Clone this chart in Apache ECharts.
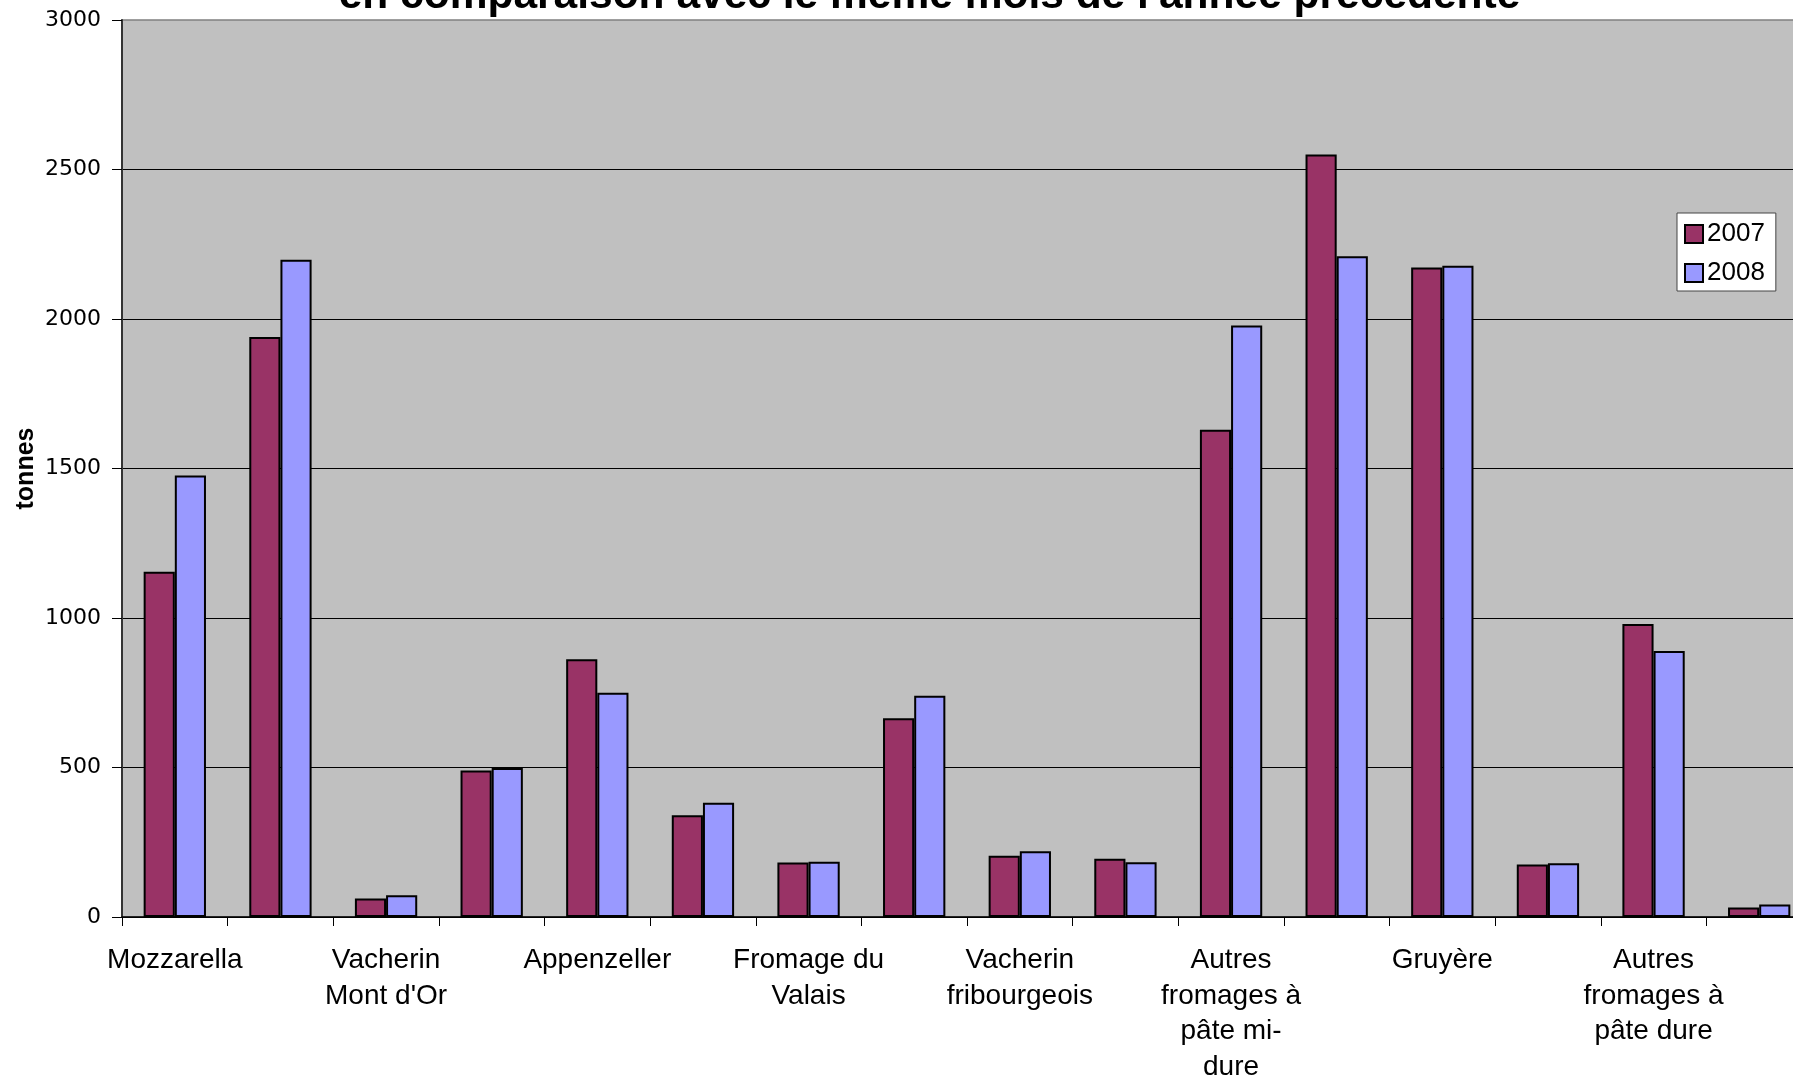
<!DOCTYPE html>
<html>
<head>
<meta charset="utf-8">
<script src="https://cdn.jsdelivr.net/npm/echarts@6/dist/echarts.min.js"></script>
<style>
  html, body { margin: 0; padding: 0; overflow: hidden; background: #fff; }
  #chart { width: 1793px; height: 1079px; }
</style>
</head>
<body>
<div id="chart"></div>
<script>
const categories = [
  "Mozzarella", "Autres fromages frais", "Vacherin Mont d'Or", "Autres fromages à pâte molle",
  "Appenzeller", "Tilsiter", "Fromage du Valais", "Raclette",
  "Vacherin fribourgeois", "Tête de Moine", "Autres fromages à pâte mi-dure", "Emmentaler",
  "Gruyère", "Sbrinz", "Autres fromages à pâte dure", "Fromages de chèvre"
];
const tickLabels = [
  "Mozzarella", "", "Vacherin\nMont d'Or", "",
  "Appenzeller", "", "Fromage du\nValais", "",
  "Vacherin\nfribourgeois", "", "Autres\nfromages à\npâte mi-\ndure", "",
  "Gruyère", "", "Autres\nfromages à\npâte dure", ""
];
const seriesNames = ["2007", "2008"];
const values2007 = [1155, 1940, 62, 490, 862, 340, 182, 665, 205, 195, 1630, 2550, 2172, 176, 980, 32];
const values2008 = [1477, 2198, 73, 498, 750, 382, 185, 740, 220, 183, 1978, 2210, 2178, 180, 890, 42];
const yTicks = { min: 0, max: 3000, interval: 500 };
const titleText = "en comparaison avec le même mois de l'année précédente";
const yName = "tonnes";

const chart = echarts.init(document.getElementById('chart'), null, { renderer: 'canvas' });
chart.setOption({
  animation: false,
  title: {
    text: titleText,
    left: 929.5,
    top: -25,
    padding: 0,
    textAlign: 'center',
    textStyle: { fontFamily: 'Liberation Sans', fontWeight: 'bold', fontSize: 42.5, color: '#000' }
  },
  legend: {
    orient: 'vertical',
    left: 1677,
    top: 213,
    padding: [8, 11, 5, 7],
    backgroundColor: '#fff',
    borderColor: '#444',
    borderWidth: 1,
    borderRadius: 0,
    itemWidth: 18,
    itemHeight: 18,
    itemGap: 13,
    icon: 'rect',
    textStyle: { fontFamily: 'Liberation Sans', fontSize: 26, color: '#000', padding: [0, 0, 0, -1] },
    data: seriesNames
  },
  grid: {
    left: 122, width: 1690, top: 20, bottom: 162,
    outerBoundsMode: 'none',
    containLabel: false,
    show: true,
    backgroundColor: '#C0C0C0',
    borderColor: '#808080',
    borderWidth: 1.5
  },
  xAxis: {
    type: 'category',
    data: categories,
    axisLine: { show: true, lineStyle: { color: '#000', width: 1.5 } },
    axisTick: { show: true, interval: 0, length: 9, lineStyle: { color: '#000', width: 1 } },
    axisLabel: {
      interval: 1,
      margin: 26,
      fontFamily: 'Liberation Sans',
      fontSize: 28,
      lineHeight: 35.5,
      color: '#000',
      align: 'center',
      formatter: function (v, i) { return tickLabels[i]; }
    },
    splitLine: { show: false }
  },
  yAxis: {
    type: 'value',
    min: yTicks.min,
    max: yTicks.max,
    interval: yTicks.interval,
    name: yName,
    nameLocation: 'middle',
    nameRotate: 90,
    nameGap: 83,
    nameMoveOverlap: false,
    nameTextStyle: { fontFamily: 'Liberation Sans', fontWeight: 'bold', fontSize: 25, color: '#000' },
    axisLine: { show: true, lineStyle: { color: '#333', width: 2 } },
    axisTick: { show: true, length: 10, lineStyle: { color: '#000', width: 1 } },
    axisLabel: {
      margin: 21, fontFamily: 'DejaVu Sans', fontSize: 22, color: '#000',
      formatter: function (v) { return String(v); }
    },
    splitLine: { show: true, showMaxLine: false, lineStyle: { color: '#000', width: 1 } }
  },
  series: [
    {
      name: seriesNames[0], type: 'bar', data: values2007,
      barGap: '0%', barCategoryGap: '41%',
      itemStyle: { color: '#993366', borderColor: '#000', borderWidth: 2 }
    },
    {
      name: seriesNames[1], type: 'bar', data: values2008,
      barGap: '0%', barCategoryGap: '41%',
      itemStyle: { color: '#9999FF', borderColor: '#000', borderWidth: 2 }
    }
  ]
});
</script>
</body>
</html>
